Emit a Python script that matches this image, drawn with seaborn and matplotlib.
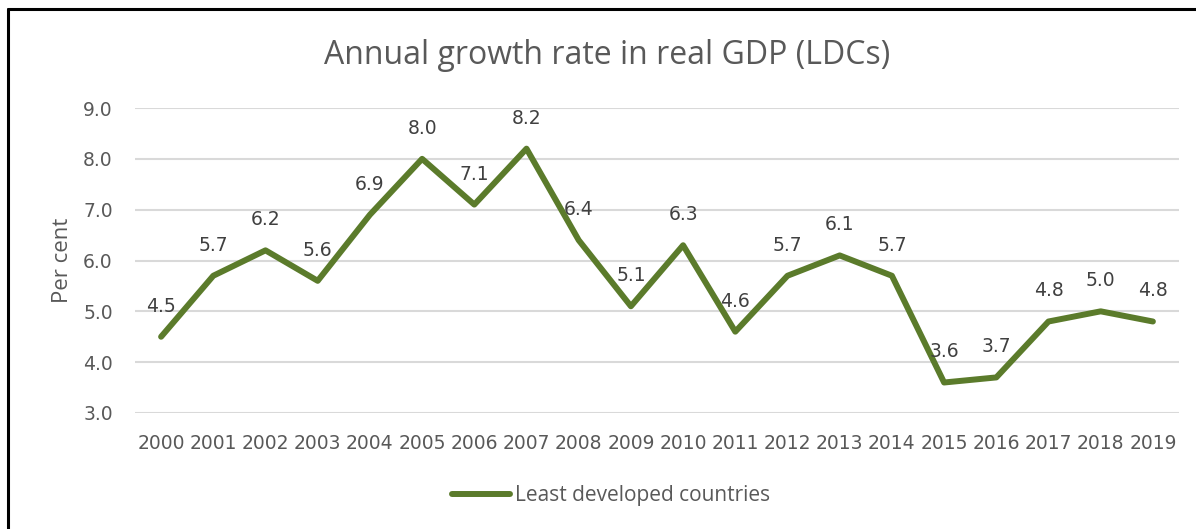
import matplotlib
matplotlib.use("Agg")
import matplotlib.pyplot as plt
from matplotlib.lines import Line2D
import pandas as pd
import seaborn as sns

# Annual real GDP growth, least developed countries (per cent)
years = ["2000", "2001", "2002", "2003", "2004", "2005", "2006", "2007", "2008", "2009",
         "2010", "2011", "2012", "2013", "2014", "2015", "2016", "2017", "2018", "2019"]
growth = [4.5, 5.7, 6.2, 5.6, 6.9, 8.0, 7.1, 8.2, 6.4, 5.1,
          6.3, 4.6, 5.7, 6.1, 5.7, 3.6, 3.7, 4.8, 5.0, 4.8]
series_name = "Least developed countries"
y_ticks = [3.0, 4.0, 5.0, 6.0, 7.0, 8.0, 9.0]

sns.set_theme(style="white")
plt.rcParams["font.family"] = ["Open Sans", "DejaVu Sans"]

GREEN = "#5b7b2b"
GREY = "#595959"
NUM_FONT = "DejaVu Sans"

df = pd.DataFrame({"year": years, "growth": growth, "series": series_name})

W, H = 1196, 529
fig = plt.figure(figsize=(W / 100, H / 100), dpi=100)
ax = fig.add_axes([135 / W, 1 - 413 / H, (1179 - 135) / W, (413 - 108) / H])

sns.lineplot(data=df, x="year", y="growth", hue="series", palette=[GREEN],
             sort=False, linewidth=4.3, ax=ax, legend=True)
for ln in ax.get_lines():
    ln.set_solid_joinstyle("round")
    ln.set_solid_capstyle("round")

# value labels above each point
for i, v in enumerate(growth):
    ax.annotate(f"{v:.1f}", xy=(i, v), xytext=(0, 22), textcoords="offset points",
                ha="center", va="center", fontsize=13.5, color="#404040",
                family=NUM_FONT)

ax.set_xlim(-0.5, len(years) - 0.5)
ax.set_ylim(3, 9)
ax.set_yticks(y_ticks)
ax.set_yticklabels([f"{t:.1f}" for t in y_ticks])
ax.yaxis.grid(True, color="#d9d9d9", linewidth=1.5)
ax.xaxis.grid(False)
ax.set_axisbelow(True)
for s in ax.spines.values():
    s.set_visible(False)
ax.tick_params(axis="both", length=0, labelsize=13.5, colors=GREY)
ax.tick_params(axis="x", pad=15)
ax.tick_params(axis="y", pad=16)
for lbl in ax.get_xticklabels() + ax.get_yticklabels():
    lbl.set_family(NUM_FONT)
ax.set_xlabel("")
ax.set_ylabel("Per cent", fontsize=16, color=GREY, labelpad=7)

fig.text(607 / W, 1 - 56 / H, "Annual growth rate in real GDP (LDCs)",
         ha="center", va="center", fontsize=23, color=GREY)

leg = ax.legend(loc="center", bbox_to_anchor=(611 / W, 1 - 496 / H),
                bbox_transform=fig.transFigure, frameon=False, fontsize=15,
                handlelength=2.8, handletextpad=0.25, labelcolor=GREY)
for h in leg.get_lines():
    h.set_linewidth(4.3)
    h.set_solid_capstyle("round")

# frame edges along the top and left of the figure
fig.add_artist(Line2D([8 / W, 1.0], [1 - 9 / H, 1 - 9 / H], transform=fig.transFigure,
                      color="black", linewidth=2.2))
fig.add_artist(Line2D([8 / W, 8 / W], [0.0, 1 - 9 / H], transform=fig.transFigure,
                      color="black", linewidth=2.2))

fig.savefig("out.png", dpi=100, facecolor="white")
